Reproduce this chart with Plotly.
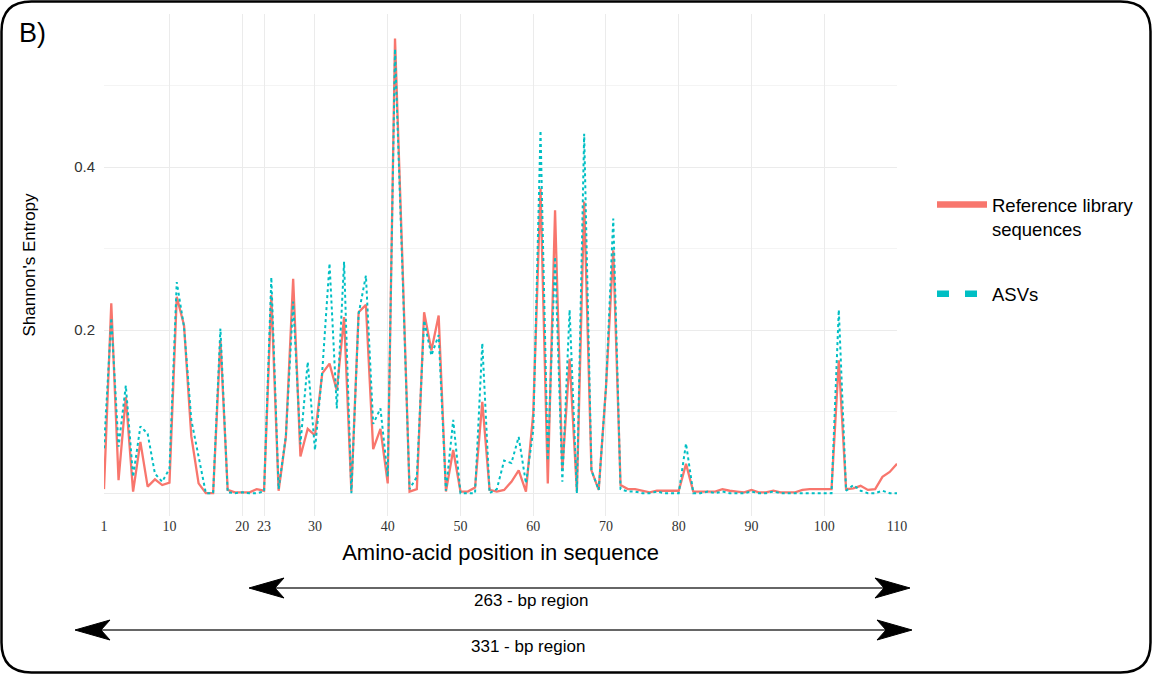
import plotly.graph_objects as go

positions = list(range(1, 111))

reference_library = [
    0.005, 0.233, 0.016, 0.118, 0.002, 0.063, 0.008, 0.017, 0.010, 0.013,
    0.241, 0.206, 0.070, 0.012, 0.000, 0.000, 0.188, 0.004, 0.001, 0.001,
    0.001, 0.005, 0.003, 0.243, 0.003, 0.069, 0.263, 0.045, 0.079, 0.071,
    0.147, 0.159, 0.126, 0.216, 0.002, 0.222, 0.231, 0.054, 0.079, 0.012,
    0.558, 0.290, 0.002, 0.005, 0.222, 0.175, 0.218, 0.002, 0.053, 0.002,
    0.002, 0.007, 0.112, 0.004, 0.002, 0.004, 0.014, 0.028, 0.002, 0.098,
    0.374, 0.012, 0.347, 0.028, 0.165, 0.002, 0.358, 0.028, 0.004, 0.130,
    0.298, 0.010, 0.005, 0.005, 0.003, 0.001, 0.003, 0.003, 0.003, 0.003,
    0.036, 0.002, 0.002, 0.002, 0.002, 0.005, 0.003, 0.002, 0.001, 0.004,
    0.001, 0.001, 0.003, 0.001, 0.001, 0.001, 0.004, 0.005, 0.005, 0.005,
    0.005, 0.163, 0.005, 0.006, 0.009, 0.004, 0.005, 0.020, 0.026, 0.036,
]

asvs = [
    0.055, 0.215, 0.057, 0.132, 0.020, 0.082, 0.073, 0.024, 0.014, 0.030,
    0.259, 0.204, 0.090, 0.045, 0.000, 0.000, 0.202, 0.001, 0.000, 0.001,
    0.000, 0.000, 0.002, 0.265, 0.005, 0.070, 0.235, 0.060, 0.161, 0.053,
    0.150, 0.282, 0.104, 0.284, 0.000, 0.220, 0.267, 0.085, 0.104, 0.020,
    0.545, 0.280, 0.005, 0.020, 0.212, 0.169, 0.194, 0.003, 0.090, 0.000,
    0.000, 0.000, 0.184, 0.000, 0.005, 0.040, 0.037, 0.069, 0.012, 0.077,
    0.445, 0.040, 0.290, 0.014, 0.225, 0.000, 0.441, 0.028, 0.004, 0.130,
    0.337, 0.005, 0.002, 0.002, 0.000, 0.000, 0.002, 0.000, 0.000, 0.000,
    0.061, 0.000, 0.000, 0.002, 0.000, 0.002, 0.000, 0.000, 0.000, 0.002,
    0.000, 0.000, 0.002, 0.000, 0.000, 0.000, 0.000, 0.000, 0.000, 0.000,
    0.000, 0.225, 0.003, 0.010, 0.003, 0.000, 0.000, 0.003, 0.000, 0.000,
]

x_tick_vals = [1, 10, 20, 23, 30, 40, 50, 60, 70, 80, 90, 100, 110]
y_tick_vals = [0, 0.2, 0.4]
y_tick_text = ["", "0.2", "0.4"]

RED = "#F8766D"
TEAL = "#00BFC4"
SANS = "Liberation Sans, Arial, sans-serif"

W, H = 1153, 675
L, R, T, B = 104, 256, 14, 159
PW, PH = W - L - R, H - T - B


def px_to_paper(px, py):
    return (px - L) / PW, (H - B - py) / PH


fig = go.Figure()
fig.add_trace(go.Scatter(x=positions, y=reference_library, mode="lines",
                         line=dict(color=RED, width=2.3), showlegend=False,
                         name="Reference library sequences"))
fig.add_trace(go.Scatter(x=positions, y=asvs, mode="lines",
                         line=dict(color=TEAL, width=2, dash="dot"), showlegend=False,
                         name="ASVs"))
# legend entries
fig.add_trace(go.Scatter(x=[None], y=[None], mode="lines",
                         line=dict(color=RED, width=6.5),
                         name="Reference library<br>sequences", legendgroup="a"))
fig.add_trace(go.Scatter(x=[None], y=[None], mode="lines",
                         line=dict(color=TEAL, width=6.5, dash="12px,16px"),
                         name="ASVs", legendgroup="b"))

lx, ly = px_to_paper(932, 186)

fig.update_layout(
    width=W, height=H,
    margin=dict(l=L, r=R, t=T, b=B, autoexpand=False),
    plot_bgcolor="white", paper_bgcolor="white",
    font=dict(family=SANS, color="black"),
    legend=dict(x=lx, y=ly, xanchor="left", yanchor="top", itemwidth=50,
                font=dict(family=SANS, size=18.5, color="black"), tracegroupgap=38,
                traceorder="grouped", valign="top", bgcolor="rgba(0,0,0,0)"),
    xaxis=dict(range=[1, 110], tickvals=x_tick_vals, showline=False, zeroline=False,
               showgrid=True, gridcolor="#EBEBEB", gridwidth=1, ticks="",
               tickfont=dict(family="Liberation Serif, Times New Roman, serif", size=14, color="#333"),
               title=dict(text="Amino-acid position in sequence",
                          font=dict(family=SANS, size=22, color="black"), standoff=11)),
    yaxis=dict(range=[-0.028, 0.588], tickvals=y_tick_vals, ticktext=y_tick_text,
               showline=False, zeroline=False, showgrid=True, gridcolor="#EBEBEB",
               gridwidth=1, ticks="", ticklabelstandoff=8,
               tickfont=dict(family=SANS, size=15, color="#333"),
               minor=dict(tickvals=[0.1, 0.3, 0.5], showgrid=True, gridcolor="#F4F4F4", gridwidth=1),
               title=dict(text="Shannon's Entropy", font=dict(family=SANS, size=17, color="black"),
                          standoff=34)),
)

# frame with rounded corners
x0, y0 = px_to_paper(1.5, 1.5)
x1, y1 = px_to_paper(W - 2.5, H - 2.5)
rx = 30 / PW
ry = 30 / PH
path = (f"M {x0+rx},{y0} L {x1-rx},{y0} Q {x1},{y0} {x1},{y0-ry} "
        f"L {x1},{y1+ry} Q {x1},{y1} {x1-rx},{y1} L {x0+rx},{y1} "
        f"Q {x0},{y1} {x0},{y1+ry} L {x0},{y0-ry} Q {x0},{y0} {x0+rx},{y0} Z")
fig.add_shape(type="path", path=path, xref="paper", yref="paper",
              line=dict(color="black", width=2.5), layer="above")

bx, by = px_to_paper(32, 33)
fig.add_annotation(x=bx, y=by, xref="paper", yref="paper", text="B)", showarrow=False,
                   font=dict(family=SANS, size=27, color="black"), xanchor="center", yanchor="middle")

# double-headed range arrows below the axis
for (lp, rp, py, label, lab_x, lab_y) in [(249, 910, 588, "263 - bp region", 531, 600),
                                          (75, 912, 630, "331 - bp region", 528, 646)]:
    ax0, ay0 = px_to_paper(lp + 20, py)
    ax1, _ = px_to_paper(rp - 20, py)
    fig.add_shape(type="line", x0=ax0, x1=ax1, y0=ay0, y1=ay0, xref="paper", yref="paper",
                  line=dict(color="#666666", width=2))
    lx0, _ = px_to_paper(lp, py)
    rx0, _ = px_to_paper(rp, py)
    fig.add_shape(type="path", xref="paper", yref="paper", xsizemode="pixel", ysizemode="pixel",
                  xanchor=rx0, yanchor=ay0, path="M0,0 L-35,10 L-26,0 L-35,-10 Z",
                  fillcolor="black", line=dict(color="black", width=1))
    fig.add_shape(type="path", xref="paper", yref="paper", xsizemode="pixel", ysizemode="pixel",
                  xanchor=lx0, yanchor=ay0, path="M0,0 L35,10 L26,0 L35,-10 Z",
                  fillcolor="black", line=dict(color="black", width=1))
    tx, ty = px_to_paper(lab_x, lab_y)
    fig.add_annotation(x=tx, y=ty, xref="paper", yref="paper",
                       text=label, showarrow=False, font=dict(family=SANS, size=17, color="black"),
                       xanchor="center", yanchor="middle")

fig.write_html("out.html", config={"displayModeBar": False},
               post_script="document.body.style.margin='0px';")
